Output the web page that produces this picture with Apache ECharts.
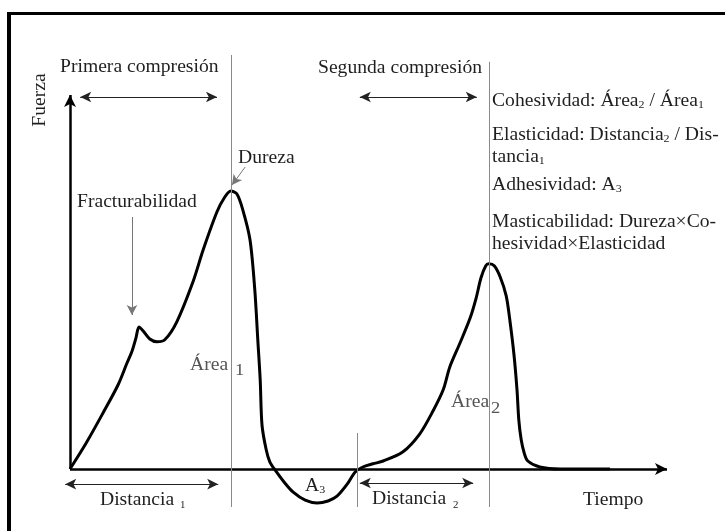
<!DOCTYPE html>
<html>
<head>
<meta charset="utf-8">
<script src="https://cdn.jsdelivr.net/npm/echarts@6/dist/echarts.min.js"></script>
<style>
  html, body { margin: 0; padding: 0; background: #fff; }
  #frame { position: absolute; left: 7px; top: 12px; width: 740px; height: 540px; border-top: 3px solid #000; border-left: 4px solid #000; }
  #tpa { position: absolute; left: 0; top: 0; width: 725px; height: 531px; }
</style>
</head>
<body>
<div id="frame"></div>
<div id="tpa"></div>
<script>
// texture profile curve (time, force)
const timeX = [0, 2.7, 5.5, 8, 9.5, 10.3, 11, 11.5, 12.2, 13.3, 14.5, 15.8, 17.8, 20.5, 22.2,
  24.5, 25.8, 26.8, 27.8, 28.8, 30, 30.8, 31.3, 31.7, 32, 32.7, 33.3, 34.2, 35.7, 37.2,
  39.2, 41.2, 43, 44.5, 46.2, 47.5, 48.8, 50.5, 52.2, 55.5, 58.3, 60.5, 62.2, 63.3, 65,
  66.7, 67.7, 68.5, 69.3, 69.8, 70.7, 71.7, 72.7, 73.3, 74, 74.5, 74.8, 75.2, 75.7, 76.3,
  78.3, 81.7, 90];
const force = [0, 6.5, 14, 21, 26.5, 29.3, 32.8, 35.5, 34.5, 32.5, 31.8, 32.3, 36.8, 46.8, 54.8,
  64.3, 68, 69.5, 68.8, 64.8, 57.3, 44.8, 32.3, 22.3, 11, 4.8, 1.8, -0.3, -3.3, -5.8,
  -7.8, -8.5, -8, -6.8, -3.8, -0.8, 0.5, 1.3, 2, 4.3, 8.8, 14.5, 19.8, 25.5, 31.5,
  37.8, 42.8, 47.8, 50.8, 51.3, 50.8, 48, 43.3, 37.3, 28.5, 19.8, 12.3, 7.3, 4, 2,
  0.5, 0, 0];

// thin vertical guides: [x, yTop, yBottom]
const guides = [[26.83, 103.5, -9.5], [69.83, 101.8, -9.5], [47.83, 9, -9.5]];
// double headed range arrows: [x0, x1, y]
const spans = [[1.7, 24.5, 93], [48.3, 67.8, 93], [-0.8, 24.7, -3.8], [48.3, 67.2, -3.5]];
// pointer arrows: [x0, y0, x1, y1]
const pointers = [[10.33, 63, 10.33, 38.5], [29.2, 75.5, 27, 71]];

const chart = echarts.init(document.getElementById('tpa'));
const serif = '"Liberation Serif", "DejaVu Serif", serif';
const ink = '#1f1f1f';
const grey = '#555';

function txt(text, x, y, size, color, extra) {
  return Object.assign({
    type: 'text', x: x, y: y, silent: true, scaleX: 1.09,
    style: {
      text: text, font: size + 'px ' + serif, fill: color || ink, verticalAlign: 'middle',
      rich: { s: { fontSize: 11, fontFamily: serif, fill: color || ink, padding: [9, 0, 0, 0] } }
    }
  }, extra || {});
}

const labels = [
  txt('Primera compresión', 60, 67, 18),
  txt('Segunda compresión', 318, 68, 18),
  txt('Cohesividad: Área{s|2} / Área{s|1}', 492, 101, 18),
  txt('Elasticidad: Distancia{s|2} / Dis-', 492, 135, 18),
  txt('tancia{s|1}', 492, 157, 18),
  txt('Adhesividad: A{s|3}', 492, 185, 18),
  txt('Masticabilidad: Dureza×Co-', 492, 222, 18),
  txt('hesividad×Elasticidad', 492, 244, 18),
  txt('Dureza', 238, 158, 18),
  txt('Fracturabilidad', 77, 202, 18),
  txt('Área', 190, 365, 18, grey),
  txt('1', 235, 371, 17, grey),
  txt('Área', 451, 402, 18, grey),
  txt('2', 491, 409, 17, grey),
  txt('A{s|3}', 305, 486, 18),
  txt('Distancia', 100, 500, 18),
  txt('1', 180, 505, 10),
  txt('Distancia', 372, 499, 18),
  txt('2', 453, 505, 10),
  txt('Tiempo', 583, 500, 18)
];
const yTitle = txt('Fuerza', 40, 100, 18);
yTitle.rotation = Math.PI / 2;
yTitle.style.align = 'center';
labels.push(yTitle);

chart.setOption({
  animation: false,
  grid: { left: 58, right: 55, top: 49, bottom: 22 },
  xAxis: { type: 'value', min: -2, max: 100, show: false },
  yAxis: { type: 'value', min: -10, max: 105, show: false },
  series: [
    {
      type: 'line', name: 'axes', data: [], silent: true, clip: false,
      markLine: {
        silent: true, symbol: ['none', 'arrow'], symbolSize: [9, 12],
        label: { show: false },
        lineStyle: { color: '#000', width: 2.5, type: 'solid' },
        data: [
          [{ coord: [0, 0] }, { coord: [0, 93.5] }],
          [{ coord: [0, 0] }, { coord: [99.5, 0] }]
        ]
      }
    },
    {
      type: 'line', name: 'guides', data: [], silent: true, clip: false,
      markLine: {
        silent: true, symbol: 'none', label: { show: false },
        lineStyle: { color: '#8a8a8a', width: 1, type: 'solid' },
        data: guides.map(g => [{ coord: [g[0], g[1]] }, { coord: [g[0], g[2]] }])
      }
    },
    {
      type: 'line', name: 'spans', data: [], silent: true, clip: false,
      markLine: {
        silent: true, symbol: ['arrow', 'arrow'], symbolSize: [8, 11],
        label: { show: false },
        lineStyle: { color: '#222', width: 1.2, type: 'solid' },
        data: spans.map(s => [{ coord: [s[0], s[2]] }, { coord: [s[1], s[2]] }])
      }
    },
    {
      type: 'line', name: 'pointers', data: [], silent: true, clip: false,
      markLine: {
        silent: true, symbol: ['none', 'arrow'], symbolSize: [8, 10],
        label: { show: false },
        lineStyle: { color: '#777', width: 1, type: 'solid' },
        itemStyle: { color: '#111' },
        data: pointers.map(p => [{ coord: [p[0], p[1]] }, { coord: [p[2], p[3]] }])
      }
    },
    {
      type: 'line', name: 'curve', clip: false, silent: true,
      data: timeX.map((t, i) => [t, force[i]]),
      smooth: 0.3, symbol: 'none',
      lineStyle: { color: '#000', width: 3 }
    }
  ],
  graphic: labels
});
</script>
</body>
</html>
